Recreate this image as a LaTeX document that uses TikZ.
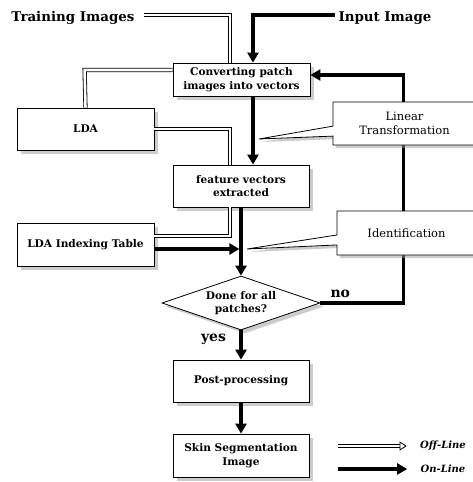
\documentclass[tikz,border=0pt]{standalone}
\usepackage{fontspec}
\setmainfont{DejaVu Serif}
\usetikzlibrary{arrows.meta,shapes.geometric,shapes.callouts,shadows}
\begin{document}
\begin{tikzpicture}[x=1pt,y=-1pt,
    box/.style={draw,fill=white,line width=0.8pt,align=center,inner sep=2pt,
      minimum width=137pt,minimum height=42pt,
      font=\fontsize{10.6}{13.5}\selectfont\bfseries,
      drop shadow={shadow xshift=3.5pt,shadow yshift=-3.5pt,fill=black!40}},
    note/.style={rectangle callout,draw,fill=white,line width=0.8pt,align=center,
      callout pointer width=10pt,font=\fontsize{11.5}{14}\selectfont,
      drop shadow={shadow xshift=3pt,shadow yshift=-3pt,fill=black!40}},
    online/.style={line width=3.4pt,-{Triangle[length=10pt,width=11pt]}},
    offline/.style={line width=0.8pt,double=white,double distance=2.6pt},
    title/.style={font=\fontsize{13.4}{15}\selectfont\bfseries},
    answer/.style={font=\fontsize{14}{15}\selectfont\bfseries},
    key/.style={font=\fontsize{10}{11}\selectfont\bfseries\itshape}]
  \useasboundingbox (0,0) rectangle (473,482);
  \node[title] (TI) at (73,18) {Training Images};
  \node[title] (II) at (385,18) {Input Image};
  \node[box,minimum height=33pt] (CPV) at (241.5,79.5) {Converting patch\\images into vectors};
  \node[box] (LDA) at (85.5,129) {LDA};
  \node[box,minimum width=136pt] (FVE) at (241,186) {feature vectors\\extracted};
  \node[box,minimum height=43pt] (LIT) at (85.5,244.5) {LDA Indexing Table};
  \node[box,diamond,shape aspect=2.9,minimum width=158pt,minimum height=54pt,inner sep=0pt] (DFA) at (241,303) {Done for all\\patches?};
  \node[box,minimum width=136pt] (PP) at (241,381) {Post-processing};
  \node[box,minimum width=136pt,minimum height=43pt] (SSI) at (241,455.5) {Skin Segmentation\\Image};
  \draw[offline] ([shift={(6,-3)}]TI.east) -| ([xshift=-11.5pt]CPV.north);
  \draw[online] ([yshift=3pt]II.west) -| ([xshift=11.5pt]CPV.north);
  \draw[offline] ([yshift=9.5pt]CPV.west) -- ++(-88,0) -- (LDA.north);
  \draw[offline] (LDA.east) -| ([xshift=-11pt]FVE.north);
  \draw[online] ([xshift=11.5pt]CPV.south) -- ([xshift=12pt]FVE.north);
  \draw[offline] ([xshift=-11pt]FVE.south) |- ([yshift=8.5pt]LIT.east);
  \draw[online] (FVE.south) -- (DFA.north);
  \draw[online] ([yshift=-4.5pt]LIT.east) -- ++(85,0);
  \draw[online] (DFA.south) -- node[left=10pt,pos=0.3,answer] {yes} (PP.north);
  \draw[online] (DFA.east) -- node[above=0pt,pos=0.24,answer] {no} ++(83,0) |- ([yshift=4.5pt]CPV.east);
  \draw[online] (PP.south) -- (SSI.north);
  \node[note,minimum width=143pt,minimum height=43pt,callout absolute pointer={(259,139)}] (LT) at (404.5,123.5) {Linear\\Transformation};
  \node[note,minimum width=139pt,minimum height=44pt,callout absolute pointer={(247,249)}] (ID) at (406.5,233) {Identification};
  \coordinate (OFF) at (338,446);
  \coordinate (ON) at (338,469);
  \node[key] (OFFT) at (443,446) {Off-Line};
  \node[key] (ONT) at (443,469) {On-Line};
  \draw[offline,-{Triangle[open,length=7pt,width=9pt,fill=white]}] (OFF) -- ([xshift=-10pt]OFFT.west);
  \draw[online] (ON) -- ([xshift=-10pt]ONT.west);
\end{tikzpicture}
\end{document}
